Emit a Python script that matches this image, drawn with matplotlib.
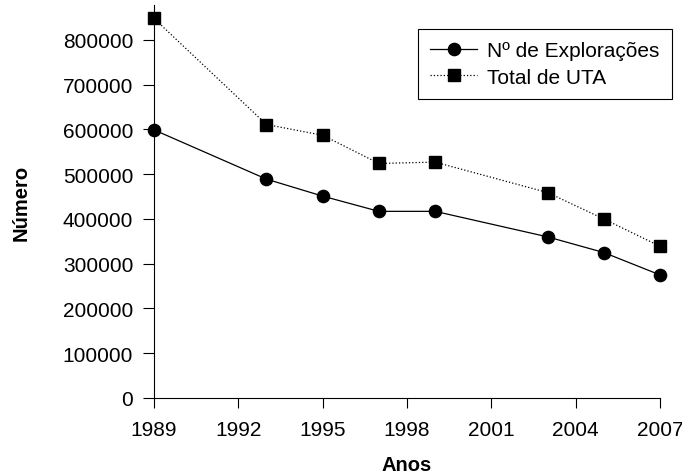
import matplotlib
matplotlib.use("Agg")
import matplotlib.pyplot as plt

# data
anos = [1989, 1993, 1995, 1997, 1999, 2003, 2005, 2007]
exploracoes = [599000, 489000, 451000, 417000, 417000, 360000, 325000, 275000]
total_uta = [848000, 611000, 587000, 524000, 527000, 459000, 400000, 339000]
x_ticks = [1989, 1992, 1995, 1998, 2001, 2004, 2007]
y_ticks = [0, 100000, 200000, 300000, 400000, 500000, 600000, 700000, 800000]

plt.rcParams['font.family'] = ['Liberation Sans', 'DejaVu Sans']

fig = plt.figure(figsize=(6.82, 4.77), dpi=100)
ax = fig.add_axes([154 / 682, 1 - 399 / 477, (660 - 154) / 682, 393 / 477])

ax.plot(anos, exploracoes, color='black', lw=0.9, marker='o', markersize=8.8,
        label='Nº de Explorações', clip_on=False, zorder=3)
ax.plot(anos, total_uta, color='black', lw=0.9, ls=':', marker='s', markersize=8.6,
        label='Total de UTA', clip_on=False, zorder=3)

ax.set_xlim(1989, 2007)
ax.set_ylim(0, 878000)
ax.set_xticks(x_ticks)
ax.set_yticks(y_ticks)
ax.set_yticklabels([str(v) for v in y_ticks])

for s in ['top', 'right']:
    ax.spines[s].set_visible(False)
for s in ['left', 'bottom']:
    ax.spines[s].set_linewidth(0.8)

ax.tick_params(axis='x', direction='out', length=7.2, width=0.8, labelsize=15, pad=9)
ax.tick_params(axis='y', direction='out', length=8, width=0.8, labelsize=15, pad=7)

ax.set_xlabel('Anos', fontsize=14.5, fontweight='bold', labelpad=11)
ax.set_ylabel('Número', fontsize=14.5, fontweight='bold', labelpad=23)

leg = ax.legend(loc='upper right', bbox_to_anchor=((672 - 154) / 506, (399 - 30) / 393),
                borderaxespad=0, fontsize=15,
                fancybox=False, framealpha=1, edgecolor='black',
                handlelength=2.25, handletextpad=0.48, borderpad=0.6,
                labelspacing=0.35)
leg.get_frame().set_linewidth(0.8)

fig.savefig('out.png', dpi=100)
